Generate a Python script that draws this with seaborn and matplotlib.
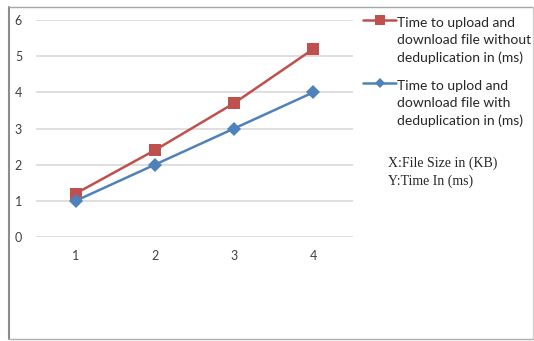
import matplotlib
matplotlib.use("Agg")
import matplotlib.pyplot as plt
from matplotlib.lines import Line2D
import seaborn as sns
import pandas as pd

# File sizes (KB) on the x axis
file_sizes = [1, 2, 3, 4]
# Time in ms, without and with deduplication
time_without_dedup = [1.2, 2.4, 3.7, 5.2]
time_with_dedup = [1.0, 2.0, 3.0, 4.0]

label_without = ["Time to upload and", "download file without", "deduplication in (ms)"]
label_with = ["Time to uplod and", "download file with", "deduplication in (ms)"]
axis_notes = ["X:File Size in (KB)", "Y:Time In (ms)"]
y_ticks = [0, 1, 2, 3, 4, 5, 6]

RED = "#C0504D"
BLUE = "#4F81BD"

sns.set_theme(style="white")
plt.rcParams["font.family"] = ["Lato", "DejaVu Sans"]

W, H = 534, 341
fig = plt.figure(figsize=(W / 100, H / 100), dpi=100)


def fx(px):
    return px / W


def fy(py):
    return 1 - py / H


ax = fig.add_axes([fx(36), fy(237), fx(353) - fx(36), fy(20) - fy(237)])

df = pd.DataFrame({
    "pos": [i for i in range(len(file_sizes))] * 2,
    "time": time_without_dedup + time_with_dedup,
    "series": ["without"] * len(file_sizes) + ["with"] * len(file_sizes),
})

sns.lineplot(data=df[df.series == "without"], x="pos", y="time", ax=ax,
             color=RED, linewidth=1.8, marker="s", markersize=9,
             markeredgewidth=0, legend=False)
sns.lineplot(data=df[df.series == "with"], x="pos", y="time", ax=ax,
             color=BLUE, linewidth=1.8, marker="D", markersize=7,
             markeredgewidth=0, legend=False)

ax.set_xlim(-0.5, len(file_sizes) - 0.5)
ax.set_ylim(0, 6)
ax.set_yticks(y_ticks)
ax.set_yticklabels([str(v) for v in y_ticks])
ax.set_xticks(range(len(file_sizes)))
ax.set_xticklabels([str(v) for v in file_sizes])
ax.set_xlabel("")
ax.set_ylabel("")
ax.yaxis.grid(True, color="#d9d9d9", linewidth=1.2)
ax.xaxis.grid(False)
for s in ax.spines.values():
    s.set_visible(False)
ax.tick_params(axis="both", length=0, labelsize=9, labelcolor="#404040")
ax.tick_params(axis="y", pad=10)
ax.tick_params(axis="x", pad=9)

# Outer chart border
fig.add_artist(Line2D([fx(8.5), fx(8.5)], [fy(7), fy(339)], color="#8c8c8c", linewidth=1.5))
fig.add_artist(Line2D([fx(8.5), fx(533)], [fy(7), fy(7)], color="#a6a6a6", linewidth=1.0))
fig.add_artist(Line2D([fx(533), fx(533)], [fy(7), fy(339)], color="#d0d0d0", linewidth=1.0))
fig.add_artist(Line2D([fx(8.5), fx(533)], [fy(339), fy(339)], color="#b0b0b0", linewidth=1.0))

# Legend entries
for color, marker, msize, y0, lines in [
    (RED, "s", 7, 20, label_without),
    (BLUE, "D", 5, 83, label_with),
]:
    fig.add_artist(Line2D([fx(363), fx(396)], [fy(y0), fy(y0)], color=color, linewidth=1.8))
    fig.add_artist(Line2D([fx(380)], [fy(y0)], color=color, marker=marker,
                          markersize=msize, markeredgewidth=0, linestyle="none"))
    for i, t in enumerate(lines):
        fig.text(fx(397), fy(y0 + 7 + 17.5 * i), t, fontsize=10, color="#262626",
                 ha="left", va="baseline")

for i, t in enumerate(axis_notes):
    fig.text(fx(388), fy(167 + 18 * i), t, fontsize=10, color="#262626",
             family=["Liberation Serif"], ha="left", va="baseline")

fig.savefig("out.png", dpi=100)
